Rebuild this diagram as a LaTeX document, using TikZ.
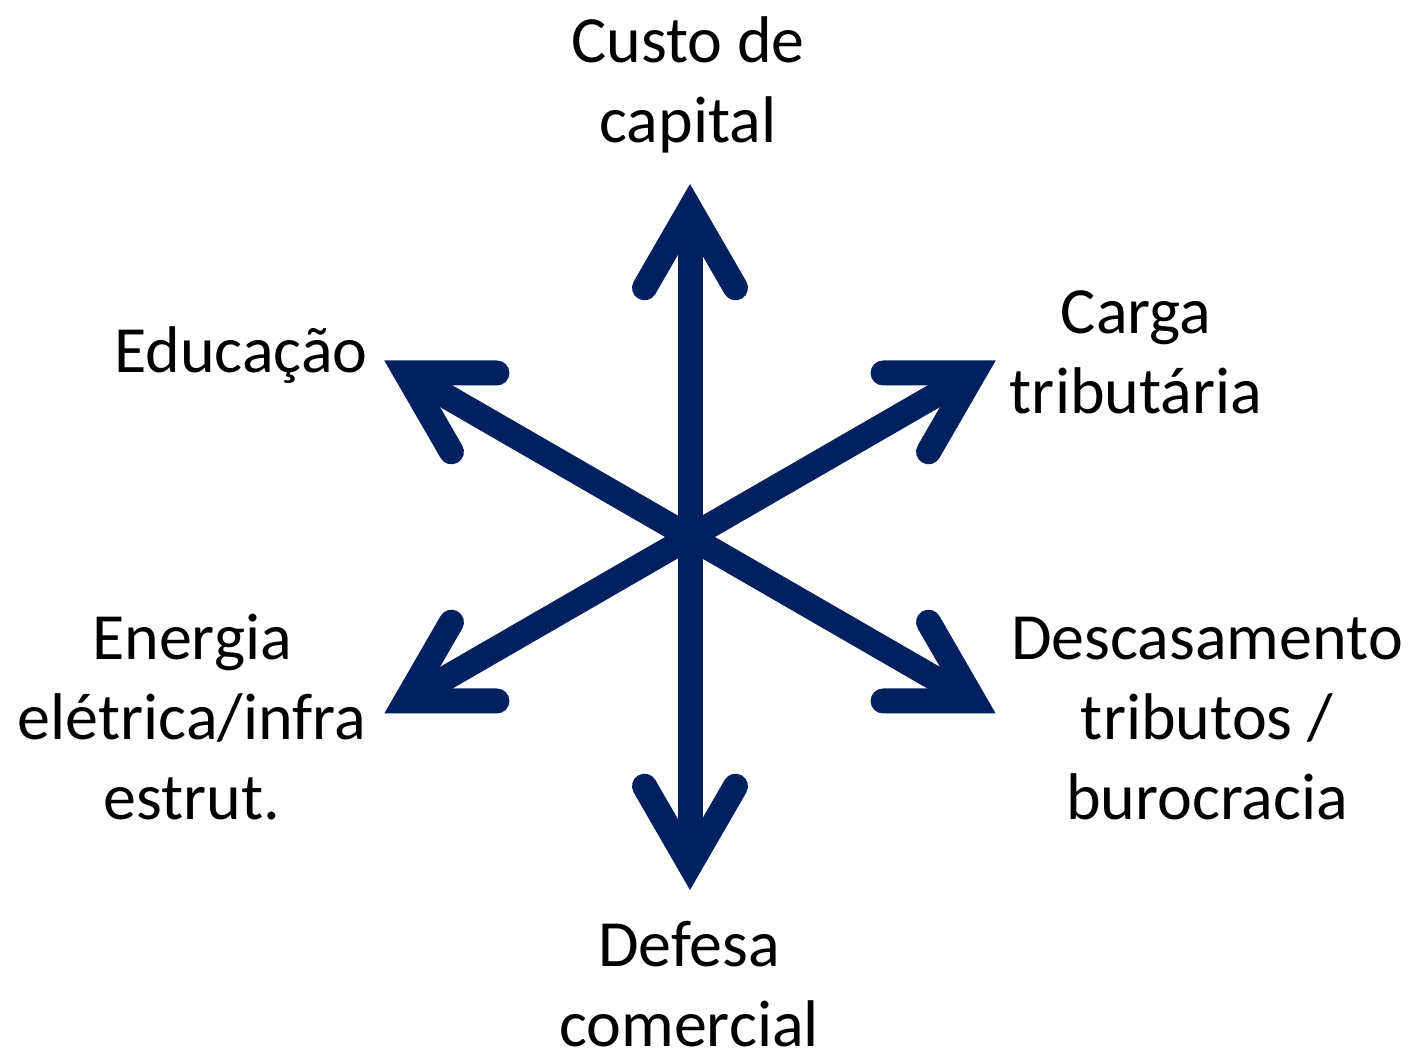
\documentclass[tikz,border=0pt]{standalone}
\usepackage{fontspec}
\setmainfont{Carlito}
\usetikzlibrary{calc}
\definecolor{navy}{HTML}{002060}
\begin{document}
\begin{tikzpicture}[x=0.5pt,y=0.5pt,
  shaft/.style={draw=navy,line width=12.5pt},
  head/.style={draw=navy,line width=12.5pt,line cap=round,line join=miter,miter limit=10},
  lbl/.style={font=\fontsize{33}{40}\selectfont,align=center,anchor=base,inner sep=0pt}]
\useasboundingbox (0,0) rectangle (1410,1056);
\coordinate (c) at (690,519);
\foreach \a/\n in {90/u,30/ur,150/ul,210/ll,270/d,330/lr}{
  \coordinate (v\n) at ($(c)+(\a:328)$);
  \coordinate (l\n) at ($(v\n)+(\a+150:91)$);
  \coordinate (r\n) at ($(v\n)+(\a-150:91)$);
  \draw[shaft] (c) -- (v\n);
  \draw[head] (l\n) -- (v\n) -- (r\n);
}
% base anchor of a multi-line node lies on its last line
\node[lbl] (custo) at (688,913) {Custo de\\capital};
\node[lbl] (carga) at (1136,642) {Carga\\tributária};
\node[lbl] (edu) at (241,683) {Educação};
\node[lbl] (energia) at (192,236) {Energia\\elétrica/infra\\estrut.};
\node[lbl] (desc) at (1207,236) {Descasamento\\tributos /\\burocracia};
\node[lbl] (defesa) at (689,10) {Defesa\\comercial};
\end{tikzpicture}
\end{document}
